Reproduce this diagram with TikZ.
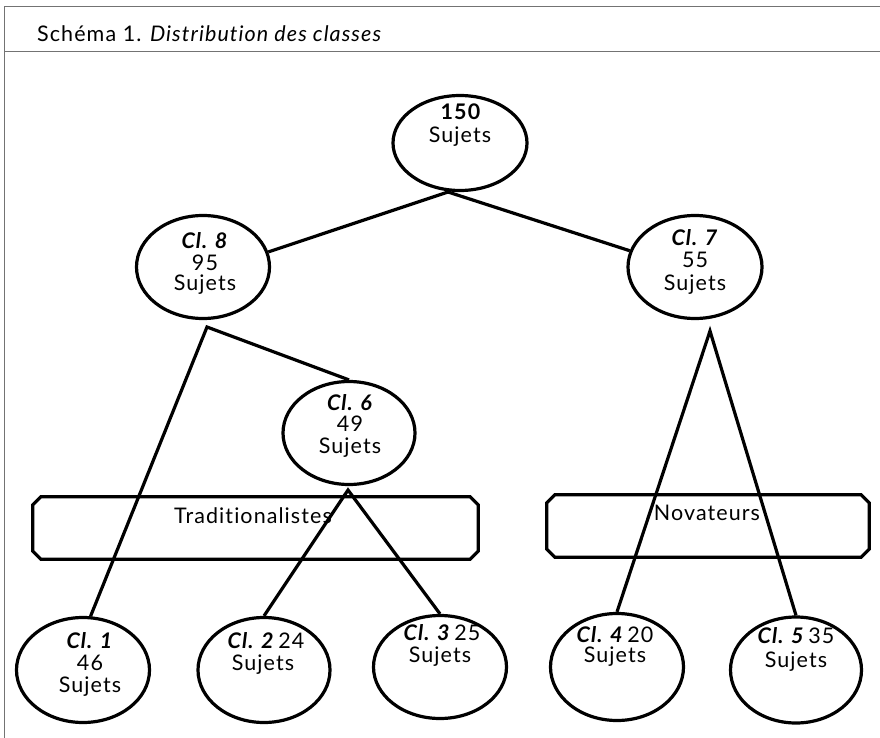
\documentclass[tikz,border=0pt]{standalone}
\usepackage{fontspec}
\setmainfont{Lato}[LetterSpace=5,Ligatures=NoCommon]
\usetikzlibrary{shapes.geometric}
\begin{document}
\begin{tikzpicture}[x=1pt,y=-1pt,
  ell/.style={draw, line width=3.2pt, ellipse, inner sep=0pt},
  lbl/.style={anchor=base, inner sep=0pt, font=\fontsize{21.5}{25}\selectfont},
  edge/.style={line width=3.2pt, line join=miter},
  band/.style={draw=none, rectangle, inner sep=0pt},
  bandline/.style={line width=3.2pt, line join=miter},
  frameline/.style={draw=black!55, line width=1pt}]
\useasboundingbox (0,0) rectangle (880,738);
% frame
\draw[frameline] (4,738) -- (4,7) -- (880,7);
\draw[frameline] (4,52) -- (880,52);
\node[lbl, anchor=base west] (title) at (37,42) {Schéma 1. \textit{Distribution des classes}};
% ellipses
\node[ell, minimum width=134pt, minimum height=95pt] (c0) at (460,143) {};
\node[ell, minimum width=133pt, minimum height=103pt] (c8) at (203,267) {};
\node[ell, minimum width=134pt, minimum height=103pt] (c7) at (695,267) {};
\node[ell, minimum width=132pt, minimum height=103pt] (c6) at (349,433) {};
\node[ell, minimum width=133pt, minimum height=105pt] (c1) at (83,670) {};
\node[ell, minimum width=132pt, minimum height=105pt] (c2) at (264,670) {};
\node[ell, minimum width=133pt, minimum height=103pt] (c3) at (440,667) {};
\node[ell, minimum width=133pt, minimum height=107pt] (c4) at (617,667) {};
\node[ell, minimum width=131pt, minimum height=106pt] (c5) at (796,670) {};
% bands (chamfered outlines drawn from the node anchors)
\node[band, minimum width=445pt, minimum height=62pt] (btrad) at (255.5,528) {};
\node[band, minimum width=322pt, minimum height=62pt] (bnov) at (708,526) {};
\foreach \b in {btrad,bnov}{
  \draw[bandline]
    ([xshift=8pt]\b.north west) -- ([xshift=-8pt]\b.north east)
    -- ([yshift=-8pt]\b.north east) -- ([yshift=8pt]\b.south east)
    -- ([xshift=-8pt]\b.south east) -- ([xshift=8pt]\b.south west)
    -- ([yshift=8pt]\b.south west) -- ([yshift=-8pt]\b.north west) -- cycle;
}
% apex coordinates
\coordinate (a0) at (448,192);
\coordinate (a8) at (207,327);
\coordinate (a7) at (710,331);
\coordinate (a6) at (348,490);
% connectors
\draw[edge] (c8.13) -- (a0) -- (c7.166);
\draw[edge] (c1.82) -- (a8) -- (c6.north);
\draw[edge] (c2.north) -- (a6) -- (c3.north);
\draw[edge] (c4.north) -- (a7) -- (c5.north);
% labels
\node[lbl] (t0a) at (461,120) {\textbf{150}};
\node[lbl] (t0b) at (460,143) {Sujets};
\node[lbl] (t8a) at (205,248) {\textbf{\textit{Cl. 8}}};
\node[lbl] (t8b) at (205,270) {95};
\node[lbl] (t8c) at (205,290) {Sujets};
\node[lbl] (t7a) at (695,245) {\textbf{\textit{Cl. 7}}};
\node[lbl] (t7b) at (695,267) {55};
\node[lbl] (t7c) at (695,290) {Sujets};
\node[lbl] (t6a) at (350,410) {\textbf{\textit{Cl. 6}}};
\node[lbl] (t6b) at (350,431) {49};
\node[lbl] (t6c) at (350,453) {Sujets};
\node[lbl] (t1a) at (90,648) {\textbf{\textit{Cl. 1}}};
\node[lbl] (t1b) at (90,670) {46};
\node[lbl] (t1c) at (90,692) {Sujets};
\node[lbl] (t2a) at (266,648) {\textbf{\textit{Cl. 2}}\,24};
\node[lbl] (t2b) at (263,670) {Sujets};
\node[lbl] (t3a) at (442,640) {\textbf{\textit{Cl. 3}}\,25};
\node[lbl] (t3b) at (440,662) {Sujets};
\node[lbl] (t4a) at (615,642) {\textbf{\textit{Cl. 4}}\,20};
\node[lbl] (t4b) at (615,662) {Sujets};
\node[lbl] (t5a) at (796,643) {\textbf{\textit{Cl. 5}}\,35};
\node[lbl] (t5b) at (796,667) {Sujets};
\node[lbl] (ttrad) at (253,523) {Traditionalistes};
\node[lbl] (tnov) at (707,520) {Novateurs};
\end{tikzpicture}
\end{document}
